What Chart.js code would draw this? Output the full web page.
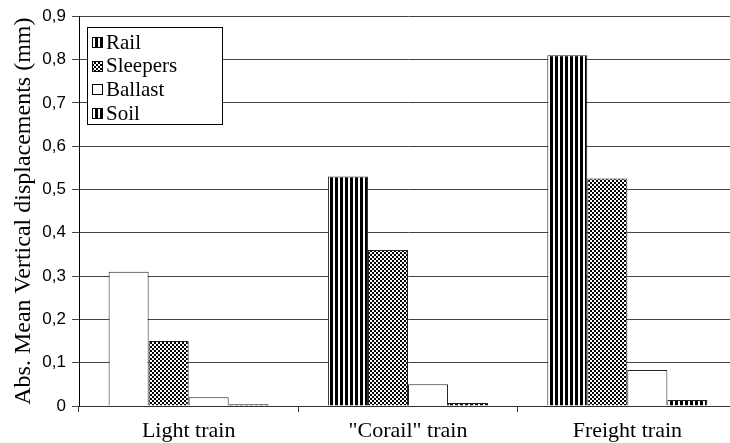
<!DOCTYPE html>
<html>
<head>
<meta charset="utf-8">
<script src="https://cdn.jsdelivr.net/npm/chart.js@4.4.0/dist/chart.umd.min.js"></script>
<style>
  html, body { margin: 0; padding: 0; background: #fff; overflow: hidden; }
  #wrap { width: 740px; height: 443px; }
</style>
</head>
<body>
<div id="wrap"><canvas id="barChart" width="740" height="443"></canvas></div>
<script>
const categories = ['Light train', '"Corail" train', 'Freight train'];
const seriesNames = ['Rail', 'Sleepers', 'Ballast', 'Soil'];
const railValues = [0.31, 0.53, 0.81];
const sleepersValues = [0.15, 0.36, 0.525];
const ballastValues = [0.02, 0.05, 0.083];
const soilValues = [0.004, 0.007, 0.014];
const yTicks = [0, 0.1, 0.2, 0.3, 0.4, 0.5, 0.6, 0.7, 0.8, 0.9];

document.addEventListener("DOMContentLoaded", () => {

  function makeStripes() {
    const c = document.createElement('canvas');
    c.width = 5; c.height = 5;
    const g = c.getContext('2d');
    g.fillStyle = '#fff'; g.fillRect(0, 0, 5, 5);
    g.fillStyle = '#000'; g.fillRect(0, 0, 3, 5);
    return g.createPattern(c, 'repeat');
  }

  function makeChecker() {
    const c = document.createElement('canvas');
    c.width = 4; c.height = 4;
    const g = c.getContext('2d');
    g.fillStyle = '#fff'; g.fillRect(0, 0, 4, 4);
    g.fillStyle = '#000';
    g.fillRect(0, 0, 2, 2);
    g.fillRect(2, 2, 2, 2);
    return g.createPattern(c, 'repeat');
  }

  const stripes = makeStripes();
  const checker = makeChecker();

  // legend drawn inside the plot, top left
  const boxLegend = {
    id: 'boxLegend',
    afterDraw(chart) {
      const ctx = chart.ctx;
      const x = 87, y = 27, w = 135, h = 97;
      ctx.save();
      ctx.fillStyle = '#fff';
      ctx.fillRect(x, y, w, h);
      ctx.strokeStyle = '#000';
      ctx.lineWidth = 1;
      ctx.strokeRect(x + 0.5, y + 0.5, w, h);
      ctx.font = '21px "Liberation Serif"';
      ctx.textBaseline = 'middle';
      chart.data.datasets.forEach((ds, i) => {
        const cy = 42 + i * 23.7;
        const iy = Math.round(cy) - 5;
        ctx.fillStyle = ds.legendFill;
        ctx.fillRect(92, iy, 11, 11);
        ctx.strokeStyle = '#000';
        ctx.strokeRect(92.5, iy + 0.5, 10, 10);
        ctx.fillStyle = '#000';
        ctx.fillText(ds.label, 106, cy + 1);
      });
      ctx.restore();
    }
  };

  const dataBars = {
    labels: categories,
    datasets: [{
        label: seriesNames[0],
        data: railValues,
        backgroundColor: ['#fff', stripes, stripes],
        legendFill: stripes
      }, {
        label: seriesNames[1],
        data: sleepersValues,
        backgroundColor: checker,
        legendFill: checker
      }, {
        label: seriesNames[2],
        data: ballastValues,
        backgroundColor: '#fff',
        legendFill: '#fff'
      }, {
        label: seriesNames[3],
        data: soilValues,
        backgroundColor: stripes,
        legendFill: stripes
      }
    ]
  };

  const configBars = {
    type: 'bar',
    data: dataBars,
    options: {
      responsive: false,
      animation: false,
      devicePixelRatio: 1,
      layout: { padding: { top: 16, right: 3, left: 0, bottom: 0 } },
      datasets: {
        bar: {
          borderColor: '#222',
          borderWidth: 1,
          categoryPercentage: 0.73,
          barPercentage: 1.0
        }
      },
      plugins: {
        legend: { display: false },
        tooltip: { enabled: false }
      },
      scales: {
        x: {
          afterFit: (s) => { s.height = 37; },
          border: { color: '#333', width: 1 },
          grid: { offset: true, drawOnChartArea: false, tickLength: 6, color: '#333' },
          ticks: {
            color: '#000',
            padding: 6,
            font: { family: 'Liberation Serif', size: 22 }
          }
        },
        y: {
          min: 0,
          max: 0.9,
          afterFit: (s) => { s.width = 79; },
          afterBuildTicks: (s) => { s.ticks = yTicks.map(v => ({ value: v })); },
          border: { color: '#000', width: 1 },
          grid: { color: '#444', lineWidth: 1, tickLength: 7 },
          ticks: {
            color: '#000',
            padding: 6,
            font: { family: 'Liberation Sans', size: 17 },
            callback: (v) => v === 0 ? '0' : v.toFixed(1).replace('.', ',')
          },
          title: {
            display: true,
            text: 'Abs. Mean Vertical displacements (mm)',
            color: '#000',
            padding: { top: 9, bottom: 0 },
            font: { family: 'Liberation Serif', size: 24 }
          }
        }
      }
    },
    plugins: [boxLegend]
  };

  new Chart(document.getElementById('barChart'), configBars);
});
</script>
</body>
</html>
